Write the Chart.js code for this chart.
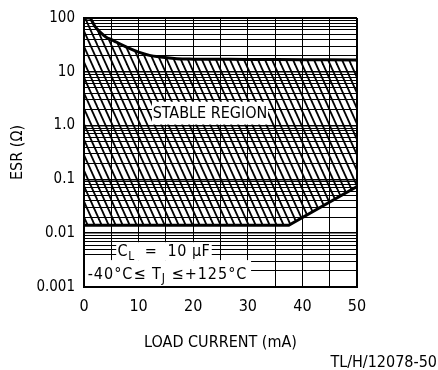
<!DOCTYPE html>
<html>
<head>
<meta charset="utf-8">
<script src="https://cdn.jsdelivr.net/npm/chart.js@4/dist/chart.umd.min.js"></script>
<style>
  html, body { margin: 0; padding: 0; background: #fff; }
  #wrap { width: 438px; height: 370px; }
</style>
</head>
<body>
<div id="wrap"><canvas id="esrChart" width="438" height="370"></canvas></div>
<script>
// ESR vs load current - stable region boundaries

var upperCurrent = [0, 1, 2, 3, 4, 5, 6, 8, 10, 12, 14, 17, 20, 30, 40, 50];
var upperESR     = [100, 100, 70, 54, 44.5, 39.5, 35.4, 28.1, 23.2, 20.2, 18.8, 17.5, 17.2, 17, 16.8, 16.6];

var lowerCurrent = [0, 37.5, 50];
var lowerESR     = [0.014, 0.014, 0.074];

var yDecades    = [0.001, 0.01, 0.1, 1, 10, 100];
var yTickLabels = ["0.001", "0.01", "0.1", "1.0", "10", "100"];
var xTickLabels = ["0", "10", "20", "30", "40", "50"];

var FONT = "'Liberation Sans Narrow', 'DejaVu Sans Condensed', 'Liberation Sans', sans-serif";

Chart.defaults.color = "#000";
Chart.defaults.font.family = FONT;
Chart.defaults.font.size = 16;

function pts(xs, ys) {
  return xs.map(function (x, i) { return {x: x, y: ys[i]}; });
}

// diagonal hatch for the stable region (two lines per tile)
function makeHatch() {
  var w = 14, h = 31, step = 7;
  var c = document.createElement("canvas");
  c.width = w; c.height = h;
  var g = c.getContext("2d");
  g.strokeStyle = "#000";
  g.lineWidth = 1.8;
  var over = 3, dx = over * w / h;
  for (var k = -2; k <= 2; k++) {
    g.beginPath();
    g.moveTo(k * step - dx, -over);
    g.lineTo(k * step + w + dx, h + over);
    g.stroke();
  }
  return g.createPattern(c, "repeat");
}

function isDecade(v) {
  return yDecades.some(function (d) { return Math.abs(v / d - 1) < 1e-6; });
}

// text boxes, placed in data units
var notes = [
  {box: [12.45, 33.7, 1.045, 2.78], spacing: "0px", parts: [["STABLE REGION", 0]]},
  {box: [5.9, 23.4, 0.00316, 0.0068], spacing: "0.5px", parts: [["C", 0], ["L", 1], ["  =  10 \u03bcF", 0]]},
  {box: [0, 30.6, 0.001, 0.00316], spacing: "1px", parts: [["-40\u00b0C\u2264 T", 0], ["J", 1], [" \u2264+125\u00b0C", 0]]}
];

function drawParts(ctx, parts, cx, cy, size) {
  var w = 0;
  parts.forEach(function (p) {
    ctx.font = (p[1] ? size * 0.75 : size) + "px " + FONT;
    w += ctx.measureText(p[0]).width;
  });
  var x = cx - w / 2;
  parts.forEach(function (p) {
    ctx.font = (p[1] ? size * 0.75 : size) + "px " + FONT;
    ctx.fillText(p[0], x, cy + (p[1] ? size * 0.3 : 0));
    x += ctx.measureText(p[0]).width;
  });
}

var notesPlugin = {
  id: "notes",
  afterDatasetsDraw: function (chart) {
    var ctx = chart.ctx, xs = chart.scales.x, ys = chart.scales.y, a = chart.chartArea;
    var boxes = notes.map(function (n) {
      return {
        l: xs.getPixelForValue(n.box[0]), r: xs.getPixelForValue(n.box[1]),
        b: ys.getPixelForValue(n.box[2]), t: ys.getPixelForValue(n.box[3])
      };
    });
    ctx.save();
    ctx.fillStyle = "#fff";
    boxes.forEach(function (p) {
      var l = Math.max(p.l, a.left + 1), r = Math.min(p.r, a.right - 1);
      var t = Math.max(p.t, a.top + 1), b = Math.min(p.b, a.bottom - 1);
      ctx.fillRect(l, t, r - l, b - t);
    });
    ctx.fillStyle = "#000";
    ctx.textBaseline = "middle";
    ctx.textAlign = "left";
    notes.forEach(function (n, i) {
      var p = boxes[i];
      if ("letterSpacing" in ctx) ctx.letterSpacing = n.spacing;
      drawParts(ctx, n.parts, (p.l + p.r) / 2, (p.t + p.b) / 2 + 1, 16);
    });
    ctx.restore();
  },
  afterDraw: function (chart) {
    var ctx = chart.ctx;
    ctx.save();
    ctx.font = "16px " + FONT;
    ctx.fillStyle = "#000";
    ctx.textAlign = "right";
    ctx.textBaseline = "middle";
    ctx.fillText("TL/H/12078-50", chart.width - 1, chart.height - 7);
    ctx.restore();
  }
};

new Chart("esrChart", {
  type: "line",
  data: {
    datasets: [{
      data: pts(upperCurrent, upperESR),
      borderColor: "#000",
      borderWidth: 3,
      pointRadius: 0,
      cubicInterpolationMode: "monotone",
      fill: {target: 1},
      backgroundColor: makeHatch()
    }, {
      data: pts(lowerCurrent, lowerESR),
      borderColor: "#000",
      borderWidth: 3,
      pointRadius: 0,
      fill: false
    }]
  },
  options: {
    responsive: false,
    animation: false,
    devicePixelRatio: 1,
    layout: {padding: {top: 16, right: 81, bottom: 0, left: 0}},
    plugins: {legend: {display: false}, tooltip: {enabled: false}},
    scales: {
      x: {
        type: "linear",
        min: 0,
        max: 50,
        afterFit: function (s) { s.height = 83; },
        ticks: {
          stepSize: 5,
          padding: 10,
          maxRotation: 0,
          autoSkip: false,
          callback: function (v) { return v % 10 === 0 ? xTickLabels[v / 10] : ""; }
        },
        grid: {
          color: "#000",
          drawTicks: false,
          lineWidth: function (c) { return c.tick && c.tick.value === 50 ? 2 : 1; }
        },
        border: {color: "#000", width: 2},
        title: {display: true, text: "LOAD CURRENT (mA)", padding: {top: 0, bottom: 18}}
      },
      y: {
        type: "logarithmic",
        min: 0.001,
        max: 100,
        afterFit: function (s) { s.width = 84; },
        afterBuildTicks: function (s) {
          var t = [];
          yDecades.forEach(function (d) {
            for (var m = 1; m <= 9; m++) {
              if (d * m <= 100 + 1e-9) t.push({value: d * m});
            }
          });
          s.ticks = t;
        },
        ticks: {
          padding: 9,
          autoSkip: false,
          font: {size: 15},
          callback: function (v) {
            var i = yDecades.findIndex(function (d) { return Math.abs(v / d - 1) < 1e-6; });
            return i >= 0 ? yTickLabels[i] : "";
          }
        },
        grid: {
          color: "#000",
          drawTicks: false,
          lineWidth: function (c) {
            if (!c.tick) return 1;
            if (c.tick.value === 100) return 2;
            return isDecade(c.tick.value) ? 1.5 : 1;
          }
        },
        border: {color: "#000", width: 2},
        title: {display: true, text: "ESR (\u03a9)", padding: {top: 8, bottom: 0}}
      }
    }
  },
  plugins: [notesPlugin]
});
</script>
</body>
</html>
